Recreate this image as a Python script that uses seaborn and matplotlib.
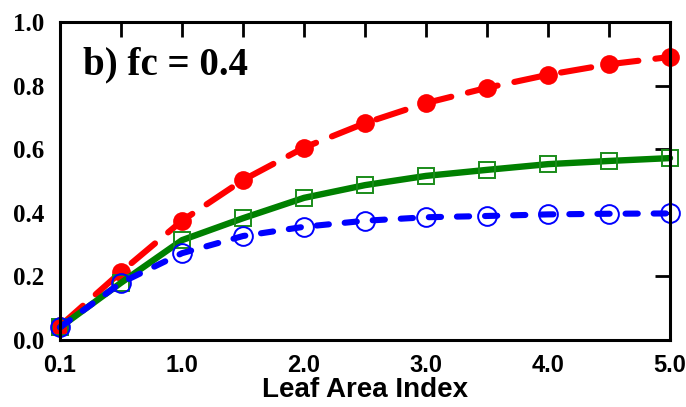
import numpy as np
import pandas as pd
import matplotlib
matplotlib.use("Agg")
import matplotlib.pyplot as plt
import seaborn as sns

lai = [0.1, 0.5, 1.0, 1.5, 2.0, 2.5, 3.0, 3.5, 4.0, 4.5, 5.0]
red_vals = [0.044, 0.214, 0.375, 0.503, 0.605, 0.682, 0.745, 0.793, 0.834, 0.867, 0.890]
green_vals = [0.040, 0.180, 0.314, 0.383, 0.447, 0.487, 0.516, 0.535, 0.553, 0.563, 0.572]
blue_vals = [0.040, 0.180, 0.273, 0.327, 0.356, 0.375, 0.386, 0.390, 0.395, 0.397, 0.398]
xtick_labels = ["0.1", "", "1.0", "", "2.0", "", "3.0", "", "4.0", "", "5.0"]
ytick_vals = [0.0, 0.2, 0.4, 0.6, 0.8, 1.0]

sns.set_style("white")
plt.rcParams["font.family"] = ["Liberation Sans", "DejaVu Sans"]
plt.rcParams["text.color"] = "black"
plt.rcParams["axes.labelcolor"] = "black"
plt.rcParams["xtick.color"] = "black"
plt.rcParams["ytick.color"] = "black"

idx = np.arange(len(lai))
df = pd.DataFrame({"idx": idx, "red": red_vals, "green": green_vals, "blue": blue_vals})

fig = plt.figure(figsize=(6.86, 4.07), dpi=100)
ax = fig.add_axes([0.0875, 0.1646, 0.8892, 0.7814])

sns.lineplot(data=df, x="idx", y="red", ax=ax, color="#ff0000", lw=4.4,
             marker="o", markersize=13.5, markeredgewidth=0, markerfacecolor="#ff0000",
             dashes=False, zorder=3, clip_on=False)
ax.lines[-1].set_dashes((5.0, 2.8))
ax.lines[-1].set_dash_capstyle("round")

sns.lineplot(data=df, x="idx", y="green", ax=ax, color="#008000", lw=4.6,
             marker="s", markersize=12, markeredgewidth=1.4,
             markerfacecolor="none", markeredgecolor="#1a8c1a", zorder=4, clip_on=False)

sns.lineplot(data=df, x="idx", y="blue", ax=ax, color="#0000ff", lw=4.4,
             marker="o", markersize=13.5, markeredgewidth=1.4,
             markerfacecolor="none", markeredgecolor="#0000ff", zorder=5, clip_on=False)
ax.lines[-1].set_dashes((2.0, 2.6))
ax.lines[-1].set_dash_capstyle("round")

ax.set_xlim(0, len(lai) - 1)
ax.set_ylim(0, 1.0)
ax.set_xticks(idx)
ax.set_xticklabels(xtick_labels, fontsize=17, fontweight="bold",
                   family=["Liberation Sans", "DejaVu Sans"])
ax.set_yticks(ytick_vals)
ax.set_yticklabels([f"{v:.1f}" for v in ytick_vals], fontsize=18, fontweight="bold",
                   family=["Liberation Serif", "DejaVu Serif"])
ax.tick_params(axis="both", direction="in", length=11, width=2, color="black",
               top=True, right=True, labelcolor="black")
ax.tick_params(axis="x", pad=10)
ax.tick_params(axis="y", pad=11)

for s in ax.spines.values():
    s.set_visible(True)
    s.set_linewidth(2.2)
    s.set_color("black")
    s.set_zorder(6)

ax.set_ylabel("")
ax.set_xlabel("Leaf Area Index", fontsize=20, fontweight="bold", labelpad=0,
              family=["Liberation Sans", "DejaVu Sans"], color="black")

ax.text(0.038, 0.836, "b) fc = 0.4", transform=ax.transAxes, fontsize=28,
        fontweight="bold", family=["Liberation Serif", "DejaVu Serif"],
        ha="left", va="baseline", color="black")

fig.savefig("out.png", dpi=100)
